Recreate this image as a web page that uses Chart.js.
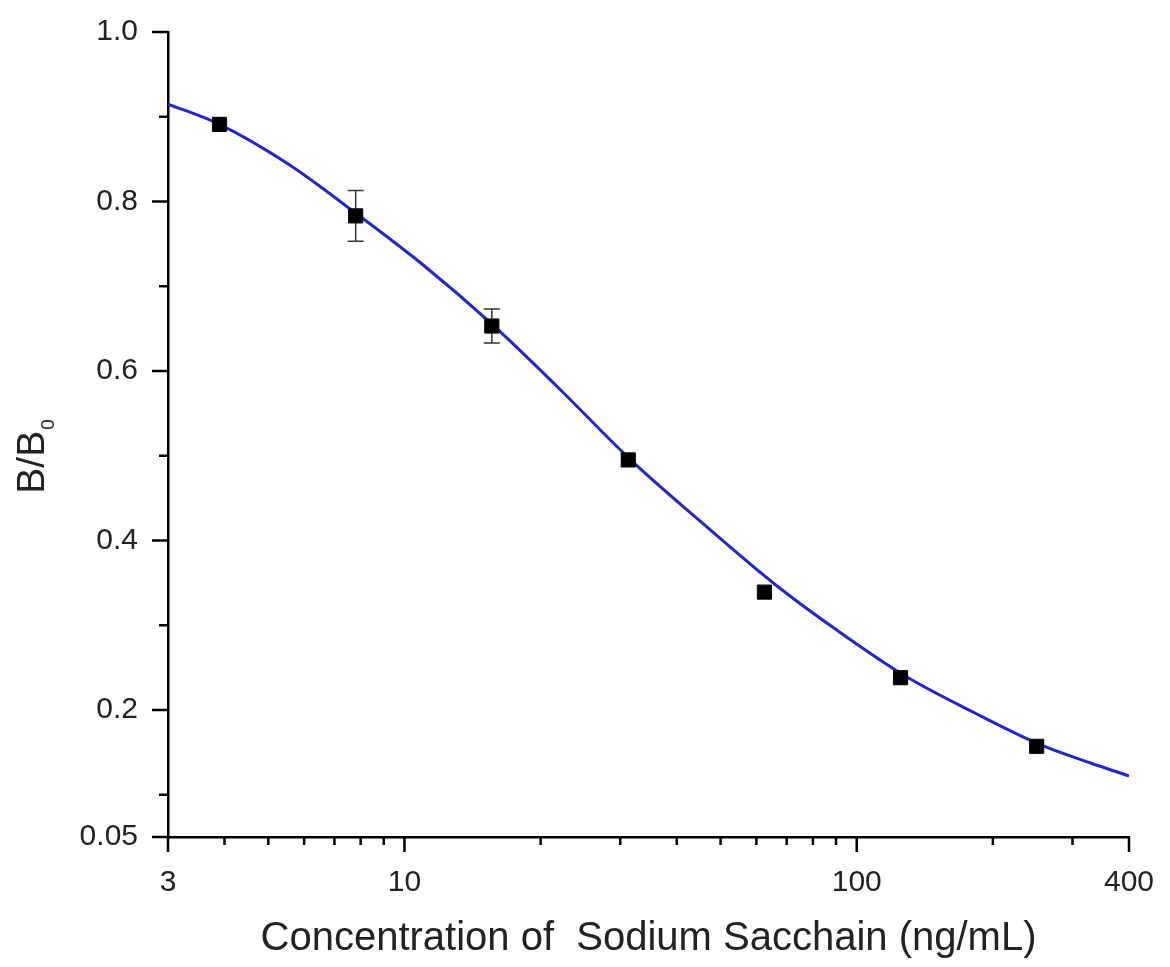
<!DOCTYPE html>
<html>
<head>
<meta charset="utf-8">
<script src="https://cdn.jsdelivr.net/npm/chart.js@4/dist/chart.umd.min.js"></script>
<style>
  html, body { margin: 0; padding: 0; background: #fff; }
  canvas { display: block; }
</style>
</head>
<body>
<canvas id="curva" width="1170" height="967"></canvas>
<script>
// measured points (concentration ng/mL, B/B0, error)
const conc = [3.9, 7.8, 15.6, 31.25, 62.5, 125, 250];
const ratio = [0.891, 0.783, 0.653, 0.495, 0.339, 0.238, 0.157];
const erro = [0, 0.030, 0.020, 0, 0, 0, 0];

// fitted curve
const fitX = [3, 3.9, 5.5, 7.9, 11, 15.7, 22, 31.5, 45, 66, 91, 128, 180, 257, 330, 400];
const fitY = [0.915, 0.891, 0.845, 0.784, 0.725, 0.654, 0.579, 0.496, 0.423, 0.348, 0.293, 0.240, 0.198, 0.158, 0.137, 0.122];

// axis ticks
const xTicks = [3, 4, 5, 6, 7, 8, 9, 10, 20, 30, 40, 50, 60, 70, 80, 90, 100, 200, 300, 400];
const xLabels = [3, 10, 100, 400];
const yTicks = [0.05, 0.1, 0.2, 0.3, 0.4, 0.5, 0.6, 0.7, 0.8, 0.9, 1.0];
const yLabels = [0.05, 0.2, 0.4, 0.6, 0.8, 1.0];

const fonte = '"Liberation Sans", Arial, sans-serif';

const pontos = conc.map((c, i) => ({x: c, y: ratio[i]}));
const curva = fitX.map((c, i) => ({x: c, y: fitY[i]}));

// error bars, drawn under the markers
const barrasErro = {
  id: 'barrasErro',
  beforeDatasetsDraw(chart) {
    const {ctx, scales: {x, y}} = chart;
    ctx.save();
    ctx.strokeStyle = '#333';
    ctx.lineWidth = 1.5;
    conc.forEach((c, i) => {
      if (!erro[i]) return;
      const px = x.getPixelForValue(c);
      const top = y.getPixelForValue(ratio[i] + erro[i]);
      const bot = y.getPixelForValue(ratio[i] - erro[i]);
      ctx.beginPath();
      ctx.moveTo(px, top); ctx.lineTo(px, bot);
      ctx.moveTo(px - 8, top); ctx.lineTo(px + 8, top);
      ctx.moveTo(px - 8, bot); ctx.lineTo(px + 8, bot);
      ctx.stroke();
    });
    ctx.restore();
  }
};

// outward tick marks, long for labelled ticks, short for the rest
const marcas = {
  id: 'marcas',
  afterDraw(chart) {
    const {ctx, scales: {x, y}, chartArea} = chart;
    ctx.save();
    ctx.strokeStyle = '#000';
    ctx.lineWidth = 2.5;
    ctx.beginPath();
    x.ticks.forEach(t => {
      const px = x.getPixelForValue(t.value);
      const len = xLabels.includes(t.value) ? 15 : 8;
      ctx.moveTo(px, chartArea.bottom); ctx.lineTo(px, chartArea.bottom + len);
    });
    y.ticks.forEach(t => {
      const py = y.getPixelForValue(t.value);
      const len = yLabels.includes(t.value) ? 16 : 9;
      ctx.moveTo(chartArea.left, py); ctx.lineTo(chartArea.left - len, py);
    });
    ctx.stroke();

    // y title with subscript
    ctx.translate(44, 457);
    ctx.rotate(-Math.PI / 2);
    ctx.fillStyle = '#222';
    ctx.textBaseline = 'alphabetic';
    ctx.font = '39px ' + fonte;
    const w1 = ctx.measureText('B/B').width;
    ctx.font = '19px ' + fonte;
    const w2 = ctx.measureText('0').width;
    const start = -(w1 + w2) / 2;
    ctx.font = '39px ' + fonte;
    ctx.fillText('B/B', start, 0);
    ctx.font = '19px ' + fonte;
    ctx.fillText('0', start + w1 + 1, 10);
    ctx.restore();
  }
};

new Chart(document.getElementById('curva'), {
  data: {
    datasets: [
      {
        type: 'line',
        label: 'Ajuste',
        data: curva,
        borderColor: '#2424d0',
        borderWidth: 3,
        pointRadius: 0,
        fill: false,
        cubicInterpolationMode: 'monotone',
        order: 2
      },
      {
        type: 'scatter',
        label: 'B/B0',
        data: pontos,
        pointStyle: 'rect',
        pointRadius: 10,
        backgroundColor: '#000',
        borderColor: '#000',
        borderWidth: 1,
        order: 1
      }
    ]
  },
  options: {
    responsive: false,
    animation: false,
    layout: { padding: { left: 0, top: 29, right: 41, bottom: 0 } },
    plugins: {
      legend: { display: false },
      tooltip: { enabled: false }
    },
    scales: {
      x: {
        type: 'logarithmic',
        min: 3,
        max: 400,
        afterBuildTicks: s => { s.ticks = xTicks.map(v => ({value: v})); },
        afterFit: s => { s.height = 130; },
        grid: { display: true, drawOnChartArea: false, drawTicks: true, tickLength: 15, tickColor: 'rgba(0,0,0,0)' },
        border: { display: true, color: '#000', width: 2.5 },
        ticks: {
          autoSkip: false,
          maxRotation: 0,
          padding: 13,
          color: '#222',
          font: { family: fonte, size: 30 },
          callback: v => xLabels.includes(v) ? String(v) : ''
        },
        title: {
          display: true,
          text: 'Concentration of  Sodium Sacchain (ng/mL)',
          color: '#222',
          font: { family: fonte, size: 40 },
          padding: { top: 0, bottom: 4 }
        }
      },
      y: {
        min: 0.05,
        max: 1.0,
        afterBuildTicks: s => { s.ticks = yTicks.map(v => ({value: v})); },
        afterFit: s => { s.width = 168; },
        grid: { display: true, drawOnChartArea: false, drawTicks: true, tickLength: 16, tickColor: 'rgba(0,0,0,0)' },
        border: { display: true, color: '#000', width: 2.5 },
        ticks: {
          autoSkip: false,
          padding: 14,
          color: '#222',
          font: { family: fonte, size: 30 },
          callback: v => yLabels.includes(v) ? (v === 0.05 ? '0.05' : v.toFixed(1)) : ''
        }
      }
    }
  },
  plugins: [barrasErro, marcas]
});
</script>
</body>
</html>
